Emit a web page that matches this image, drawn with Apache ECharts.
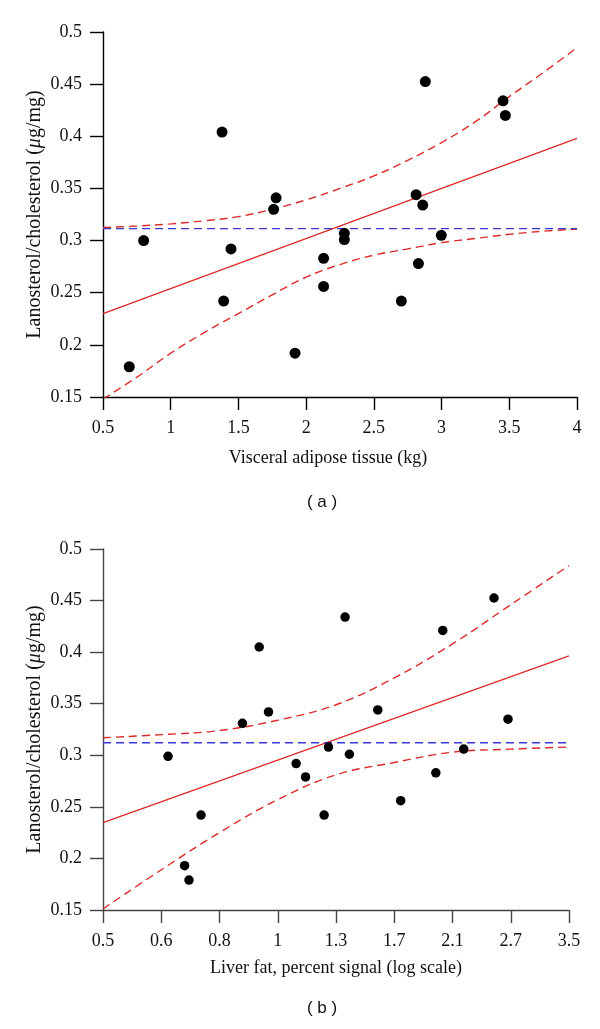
<!DOCTYPE html>
<html>
<head>
<meta charset="utf-8">
<script src="https://cdn.jsdelivr.net/npm/echarts@6/dist/echarts.min.js"></script>
<style>
html,body{margin:0;padding:0;background:#fff;}
#chart{width:600px;height:1029px;}
</style>
</head>
<body>
<div id="chart"></div>
<script>
// ---------- Panel (a): visceral adipose tissue ----------
var vatX = [1.379, 2.880, 3.454, 3.471, 1.778, 1.760, 2.812, 2.861, 0.800, 1.445,
            0.694, 1.391, 1.918, 2.129, 2.129, 2.282, 2.282, 2.703, 2.829, 2.998];
var vatY = [0.404, 0.4525, 0.434, 0.420, 0.341, 0.330, 0.344, 0.334, 0.300, 0.292,
            0.179, 0.242, 0.192, 0.283, 0.256, 0.307, 0.301, 0.242, 0.278, 0.305];
var vatFitX = [0.5, 4];
var vatFitY = [0.230, 0.398];
var vatMeanY = 0.3115;
var vatCiX = [0.5, 0.75, 1, 1.25, 1.5, 1.75, 2, 2.25, 2.5, 2.75, 3, 3.25, 3.5, 3.75, 4];
var vatCiUpper = [0.3125, 0.314, 0.316, 0.319, 0.323, 0.330, 0.339, 0.350, 0.362, 0.377, 0.394, 0.414, 0.438, 0.461, 0.485];
var vatCiLower = [0.148, 0.169, 0.192, 0.212, 0.230, 0.248, 0.265, 0.277, 0.286, 0.292, 0.298, 0.302, 0.306, 0.309, 0.311];

// ---------- Panel (b): liver fat (log scale) ----------
var liverX = [0.960, 1.374, 2.066, 2.559, 0.998, 1.575, 0.895, 2.713, 0.656, 1.282,
              1.399, 1.120, 1.165, 2.255, 2.007, 1.733, 0.753, 1.259, 0.703, 0.716];
var liverY = [0.405, 0.434, 0.421, 0.4525, 0.342, 0.344, 0.331, 0.335, 0.299, 0.308,
              0.301, 0.292, 0.279, 0.306, 0.283, 0.256, 0.242, 0.242, 0.193, 0.179];
var liverTickValues = [0.5, 0.638, 0.813, 1.037, 1.323, 1.687, 2.152, 2.745, 3.5];
var liverTickLabels = ['0.5', '0.6', '0.8', '1', '1.3', '1.7', '2.1', '2.7', '3.5'];
var liverFitX = [0.5, 3.5];
var liverFitY = [0.2347, 0.3963];
var liverMeanY = 0.3122;
var liverCiUpper = [0.317, 0.320, 0.324, 0.334, 0.349, 0.375, 0.408, 0.446, 0.484];
var liverCiLower = [0.151, 0.189, 0.225, 0.257, 0.281, 0.293, 0.303, 0.306, 0.308];

var yTicksMin = 0.15, yTicksMax = 0.5, yTickStep = 0.05;

// log-scale position on panel (b) axis (0 .. 8, one unit per tick)
var logLo = Math.log(liverTickValues[0]);
var logHi = Math.log(liverTickValues[liverTickValues.length - 1]);
var nSteps = liverTickValues.length - 1;
function logPos(v) { return nSteps * (Math.log(v) - logLo) / (logHi - logLo); }

function zip(xs, ys, fx) {
  return xs.map(function (x, i) { return [fx ? fx(x) : x, ys[i]]; });
}

var RED = '#dd2a2a';
var BLUE = '#3a36d8';
var SERIF = '"Liberation Serif", "Times New Roman", serif';
var yTitle = {
  rich: {
    n: { fontFamily: SERIF, fontSize: 20, color: '#111' },
    i: { fontFamily: SERIF, fontSize: 20, fontStyle: 'italic', color: '#111' }
  }
};
var yName = '{n|Lanosterol/cholesterol (}{i|μ}{n|g/mg)}';

function yAxisCfg(gridIndex, color) {
  return {
    type: 'value', gridIndex: gridIndex,
    min: yTicksMin, max: yTicksMax, interval: yTickStep,
    name: yName, nameLocation: 'middle', nameGap: 58, nameRotate: 90,
    nameMoveOverlap: false,
    nameTextStyle: yTitle,
    axisLine: { show: true, lineStyle: { color: color, width: 1.4 } },
    axisTick: { show: true, length: 13, lineStyle: { color: color, width: 1.4 } },
    splitLine: { show: false },
    axisLabel: {
      margin: 21, fontFamily: SERIF, fontSize: 18, color: '#111',
      formatter: function (v) { return String(Number(v.toFixed(2))); }
    }
  };
}

function lineSeries(xi, yi, data, color, dashed, smooth) {
  return {
    type: 'line', xAxisIndex: xi, yAxisIndex: yi, data: data,
    showSymbol: false, symbol: 'none', smooth: smooth ? 0.4 : false,
    lineStyle: { color: color, width: 1.4, type: dashed ? [8, 5] : 'solid' },
    silent: true, z: 2, animation: false
  };
}

var chart = echarts.init(document.getElementById('chart'), null, { renderer: 'canvas' });
chart.setOption({
  animation: false,
  backgroundColor: '#fff',
  grid: [
    { left: 103, right: 23, top: 32, height: 365 },
    { left: 103, right: 31, top: 549, height: 361 }
  ],
  xAxis: [
    {
      type: 'value', gridIndex: 0, min: 0.5, max: 4, interval: 0.5,
      name: 'Visceral adipose tissue (kg)', nameLocation: 'middle', nameGap: 52,
      nameTextStyle: { fontFamily: SERIF, fontSize: 18, color: '#111', padding: [0, 24, 0, 0] },
      axisLine: { show: true, onZero: false, lineStyle: { color: '#000', width: 1.4 } },
      axisTick: { show: true, length: 13, lineStyle: { color: '#000', width: 1.4 } },
      splitLine: { show: false },
      axisLabel: {
        margin: 22, fontFamily: SERIF, fontSize: 18, color: '#111',
        formatter: function (v) { return String(Number(v.toFixed(2))); }
      }
    },
    {
      type: 'value', gridIndex: 1, min: 0, max: nSteps, interval: 1,
      name: 'Liver fat, percent signal (log scale)', nameLocation: 'middle', nameGap: 49,
      nameTextStyle: { fontFamily: SERIF, fontSize: 18, color: '#111' },
      axisLine: { show: true, onZero: false, lineStyle: { color: '#444', width: 1.4 } },
      axisTick: { show: true, length: 13, lineStyle: { color: '#444', width: 1.4 } },
      splitLine: { show: false },
      axisLabel: {
        margin: 22, fontFamily: SERIF, fontSize: 18, color: '#111',
        formatter: function (v) { return liverTickLabels[Math.round(v)]; }
      }
    }
  ],
  yAxis: [yAxisCfg(0, '#000'), yAxisCfg(1, '#444')],
  graphic: [
    { type: 'text', x: 322, y: 502, style: { text: '( a )', textAlign: 'center', textVerticalAlign: 'middle', font: '17px "Liberation Sans", Arial, sans-serif', fill: '#111' } },
    { type: 'text', x: 322, y: 1008, style: { text: '( b )', textAlign: 'center', textVerticalAlign: 'middle', font: '17px "Liberation Sans", Arial, sans-serif', fill: '#111' } }
  ],
  series: [
    // panel a
    lineSeries(0, 0, zip(vatCiX, vatCiUpper), RED, true, true),
    lineSeries(0, 0, zip(vatCiX, vatCiLower), RED, true, true),
    lineSeries(0, 0, zip(vatFitX, vatFitY), RED, false, false),
    lineSeries(0, 0, [[vatFitX[0], vatMeanY], [vatFitX[1], vatMeanY]], BLUE, true, false),
    {
      type: 'scatter', xAxisIndex: 0, yAxisIndex: 0, data: zip(vatX, vatY),
      symbol: 'circle', symbolSize: 11, itemStyle: { color: '#000', opacity: 1 }, z: 5, animation: false
    },
    // panel b
    lineSeries(1, 1, zip(liverTickValues, liverCiUpper, logPos), RED, true, true),
    lineSeries(1, 1, zip(liverTickValues, liverCiLower, logPos), RED, true, true),
    lineSeries(1, 1, zip(liverFitX, liverFitY, logPos), RED, false, false),
    lineSeries(1, 1, [[logPos(liverFitX[0]), liverMeanY], [logPos(liverFitX[1]), liverMeanY]], BLUE, true, false),
    {
      type: 'scatter', xAxisIndex: 1, yAxisIndex: 1, data: zip(liverX, liverY, logPos),
      symbol: 'circle', symbolSize: 9.5, itemStyle: { color: '#000', opacity: 1 }, z: 5, animation: false
    }
  ]
});
</script>
</body>
</html>
